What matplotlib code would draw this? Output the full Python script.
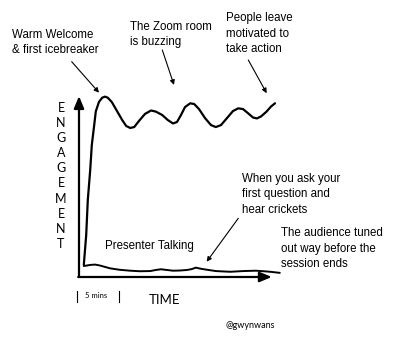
import matplotlib.pyplot as plt

# engagement curve over a session (minutes, engagement 0-100)
good_t = [0.6, 0.9, 1.1, 1.4, 1.6, 1.9, 2.1, 2.5, 2.9, 3.25, 3.6, 4.1, 4.75, 5.4,
          5.9, 6.4, 6.9, 7.5, 8.25, 9.0, 9.6, 10.4, 11.1, 11.75, 12.25, 12.75,
          13.25, 13.9, 14.4, 15.0, 15.75, 16.5, 17.1, 17.75, 18.5, 19.25, 19.9,
          20.5, 21.1, 21.75, 22.25, 22.75, 23.4, 24.0, 24.5]
good_e = [6.7, 23.3, 42.8, 59.4, 73.3, 84.4, 92.0, 97.3, 99.6, 100.2, 99.6, 97.2,
          92.2, 87.2, 83.9, 82.8, 83.3, 86.7, 90.6, 92.5, 91.9, 90.0, 87.2, 85.3,
          86.1, 90.0, 94.4, 96.5, 96.1, 93.3, 88.3, 84.4, 83.3, 84.4, 88.3, 92.2,
          93.7, 93.3, 91.1, 88.6, 88.1, 89.2, 91.7, 94.7, 96.5]

bad_t = [0.6, 1.4, 2.0, 2.6, 3.25, 3.9, 5.1, 6.4, 7.6, 8.9, 9.6, 10.25, 11.0,
         11.75, 12.6, 13.5, 14.1, 14.6, 15.1, 15.75, 17.1, 18.9, 20.5, 22.1,
         23.1, 23.9, 25.1]
bad_e = [6.1, 6.7, 6.9, 6.4, 5.6, 4.8, 4.0, 3.5, 3.2, 3.3, 3.9, 4.3, 3.9, 3.5,
         3.6, 3.9, 4.4, 5.2, 4.7, 4.2, 3.3, 2.9, 3.3, 3.5, 3.2, 2.9, 2.3]

axis_label_y = list("ENGAGEMENT")

W, H = 402, 350
X0, Y0 = 79, 277        # pixel position of the origin
PX_MIN, PX_ENG = 8, 1.8  # pixels per minute / per engagement unit


def fig_xy(px, py):
    return px / W, 1 - py / H


fig = plt.figure(figsize=(W / 100, H / 100), dpi=100)
ax = fig.add_axes([0, 0, 1, 1])
ax.set_xlim(-X0 / PX_MIN, (W - X0) / PX_MIN)
ax.set_ylim(-(H - Y0) / PX_ENG, Y0 / PX_ENG)
ax.axis("off")

# axes arrows
head = "-|>,head_length=0.6,head_width=0.25"
ax.annotate("", xy=(0, 100.5), xytext=(0, 0),
            arrowprops=dict(arrowstyle=head, mutation_scale=12, lw=1.6,
                            color="black", shrinkA=0, shrinkB=0))
ax.annotate("", xy=(24.1, 0), xytext=(-0.1, 0),
            arrowprops=dict(arrowstyle=head, mutation_scale=12, lw=1.6,
                            color="black", shrinkA=0, shrinkB=0))

ax.plot(good_t, good_e, color="black", lw=1.6, solid_capstyle="round",
        solid_joinstyle="round")
ax.plot(bad_t, bad_e, color="black", lw=1.4, solid_capstyle="round",
        solid_joinstyle="round")

# axis titles
for i, ch in enumerate(axis_label_y):
    fig.text(*fig_xy(61, 107.5 + i * 15.2), ch, family="Lato", fontsize=9,
             ha="center", va="center")
fig.text(*fig_xy(164.5, 300.5), "TIME", family="Lato", fontsize=9.5,
         ha="center", va="center")

# 5 minute scale marker
ax.plot([-0.2, -0.2], [-7.5, -14], color="black", lw=0.8)
ax.plot([5.0, 5.0], [-7.5, -14], color="black", lw=0.8)
fig.text(*fig_xy(96.5, 296), "5 mins", family="Lato", fontsize=5.5,
         ha="center", va="center")
fig.text(*fig_xy(250, 325), "@gwynwans", family="Lato", fontsize=6.5,
         ha="center", va="center")

# annotations
notes = [
    ("Warm Welcome\n& first icebreaker", (12.3, 35), (71.7, 61.7), (2.5, 102.4)),
    ("The Zoom room\nis buzzing", (130, 26.7), (162.3, 50), (11.875, 106.7)),
    ("People leave\nmotivated to\ntake action", (225.7, 18.3), (248.3, 60),
     (23.46, 102.1)),
    ("When you ask your\nfirst question and\nhear crickets", (241.7, 179),
     (238.3, 218.3), (15.96, 8.5)),
]
arrow = dict(arrowstyle="-|>", mutation_scale=7, lw=0.8, color="black",
             shrinkA=0, shrinkB=0)
for label, (tx, ty), tail, tip in notes:
    fig.text(*fig_xy(tx, ty - 6.2), label, family="Liberation Sans",
             fontsize=8.3, ha="left", va="top", linespacing=1.4)
    ax.annotate("", xy=tip, xytext=fig_xy(*tail), textcoords="figure fraction",
                arrowprops=arrow)

fig.text(*fig_xy(281, 233.3 - 6.2), "The audience tuned\nout way before the\nsession ends",
         family="Liberation Sans", fontsize=8.3, ha="left", va="top",
         linespacing=1.4)
fig.text(*fig_xy(105, 245.7), "Presenter Talking", family="Liberation Sans",
         fontsize=8.3, ha="left", va="center")

fig.savefig("out.png", dpi=100, facecolor="white")
